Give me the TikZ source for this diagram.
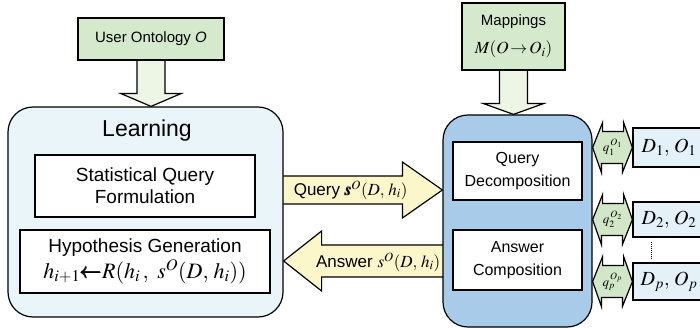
\documentclass[tikz,border=0pt]{standalone}
\usepackage{amsmath}
\usepackage{mathptmx}
\usepackage{fontspec}
\setmainfont{Liberation Sans}
\usetikzlibrary{calc,backgrounds}
\definecolor{ontogreen}{HTML}{D5EACD}
\definecolor{shaftgreen}{HTML}{EDF5E5}
\definecolor{qgreen}{HTML}{D2E7C8}
\definecolor{ansyellow}{HTML}{FCF6CB}
\definecolor{learnblue}{HTML}{E9F5F8}
\definecolor{midblue}{HTML}{A9CBEA}
\definecolor{srcblue}{HTML}{E4F1F8}

\begin{document}
\begin{tikzpicture}[x=1pt,y=-1pt,
    box/.style={draw,line width=1.2pt,inner sep=0pt,align=center},
    bigarrow/.style={draw,line width=1.2pt,line join=miter},
    fsize/.style={font=\fontsize{#1}{#1}\selectfont}]
    \useasboundingbox (0,0) rectangle (700,328);

    % input boxes at the top
    \node[box,fill=ontogreen,minimum width=146,minimum height=42,font=\fontsize{15}{18}\selectfont] (onto) at (151,39) {User Ontology \textit{O}};
    \node[box,fill=ontogreen,minimum width=103,minimum height=67,font=\fontsize{15}{28}\selectfont] (maps) at (513.5,36.5) {Mappings\\ {\fontsize{17}{28}\selectfont $M(O\!\rightarrow\! O_i)$}};

    % learning component
    \node[box,fill=learnblue,rounded corners=25,minimum width=275,minimum height=210] (learn) at (145.5,212) {};
    \node[font=\fontsize{23}{23}\selectfont] (learntitle) at (147,131) {Learning};
    \node[box,fill=white,minimum width=220,minimum height=62,font=\fontsize{19}{22}\selectfont] (stat) at (145,186) {Statistical Query\\ Formulation};
    \node[box,fill=white,minimum width=250,minimum height=63,font=\fontsize{19}{22}\selectfont] (hyp) at (145,261.5) {Hypothesis Generation\\[2pt] {\fontsize{22}{22}\selectfont $h_{i+1}{\pmb{\leftarrow}}R(h_i\,,\ s^{O}(D,\, h_i))$}};

    % query answering engine
    \node[box,fill=midblue,rounded corners=25,minimum width=149,minimum height=212] (mid) at (517.5,221) {};
    \node[box,fill=white,minimum width=129,minimum height=58,font=\fontsize{16}{23}\selectfont] (qdec) at (517.5,171) {Query\\ Decomposition};
    \node[box,fill=white,minimum width=129,minimum height=60,font=\fontsize{16}{23}\selectfont] (acomp) at (517.5,260) {Answer\\ Composition};

    % data sources
    \node[box,fill=srcblue,minimum width=72,minimum height=39,font=\fontsize{20}{20}\selectfont] (d1) at (669,147.5) {$D_1,\, O_1$};
    \node[box,fill=srcblue,minimum width=72,minimum height=35,font=\fontsize{20}{20}\selectfont] (d2) at (669,219.5) {$D_2,\, O_2$};
    \node[box,fill=srcblue,minimum width=72,minimum height=37,font=\fontsize{20}{20}\selectfont] (dp) at (669,281.5) {$D_p,\, O_p$};
    \draw[densely dotted,line width=1pt] ($(d2.south west)+(19,4)$) -- ($(dp.north west)+(19,-4)$);

    \begin{scope}[on background layer]
        % arrows from the top boxes
        \draw[bigarrow,fill=shaftgreen] ($(onto.south)+(-14,0)$) -- ++(0,33) -- ++(-16,0) -- (onto.south |- learn.north) -- ($(onto.south)+(30,33)$) -- ++(-16,0) -- ($(onto.south)+(14,0)$);
        \draw[bigarrow,fill=shaftgreen] ($(maps.south)+(-14,0)$) -- ++(0,33) -- ++(-16,0) -- (maps.south |- mid.north) -- ($(maps.south)+(30,33)$) -- ++(-16,0) -- ($(maps.south)+(14,0)$);

        % query and answer arrows
        \coordinate (qs) at (learn.east |- 0,190);
        \coordinate (qt) at (mid.west |- qs);
        \draw[bigarrow,fill=ansyellow] ($(qs)+(-5,-14)$) -- ($(qt)+(-40,-14)$) -- ($(qt)+(-40,-28)$) -- (qt) -- ($(qt)+(-40,28)$) -- ($(qt)+(-40,14)$) -- ($(qs)+(-5,14)$);
        \coordinate (as) at (mid.west |- 0,261);
        \coordinate (at) at (learn.east |- as);
        \draw[bigarrow,fill=ansyellow] ($(as)+(5,-16)$) -- ($(at)+(38,-16)$) -- ($(at)+(38,-30)$) -- (at) -- ($(at)+(38,30)$) -- ($(at)+(38,16)$) -- ($(as)+(5,16)$);

        % sub-queries to the data sources
        \coordinate (q1) at (mid.east |- d1.west);
        \draw[bigarrow,fill=qgreen] (q1) -- ++(10,-25) -- ++(0,9) -- ++(21,0) -- ++(0,-9) -- (d1.west) -- ++(-10,25) -- ++(0,-9) -- ++(-21,0) -- ++(0,9) -- cycle;
        \coordinate (q2) at (mid.east |- d2.west);
        \draw[bigarrow,fill=qgreen] (q2) -- ++(10,-25) -- ++(0,9) -- ++(21,0) -- ++(0,-9) -- (d2.west) -- ++(-10,25) -- ++(0,-9) -- ++(-21,0) -- ++(0,9) -- cycle;
        \coordinate (qp) at (mid.east |- dp.west);
        \draw[bigarrow,fill=qgreen] (qp) -- ++(10,-25) -- ++(0,9) -- ++(21,0) -- ++(0,-9) -- (dp.west) -- ++(-10,25) -- ++(0,-9) -- ++(-21,0) -- ++(0,9) -- cycle;
    \end{scope}

    % arrow labels
    \node[fsize=17,anchor=west,inner sep=0pt] (qlabel) at ($(qs)+(10,0)$) {Query $\pmb{s}^{O}(D,\, h_i)$};
    \node[fsize=17,anchor=east,inner sep=0pt] (alabel) at ($(as)+(-2,1)$) {Answer $s^{O}(D,\, h_i)$};
    \node[fsize=13,inner sep=0pt] (q1label) at ($(q1)!0.5!(d1.west)$) {$q_1^{\,O_1}$};
    \node[fsize=13,inner sep=0pt] (q2label) at ($(q2)!0.5!(d2.west)$) {$q_2^{\,O_2}$};
    \node[fsize=13,inner sep=0pt] (qplabel) at ($(qp)!0.5!(dp.west)$) {$q_p^{\,O_p}$};
\end{tikzpicture}
\end{document}
